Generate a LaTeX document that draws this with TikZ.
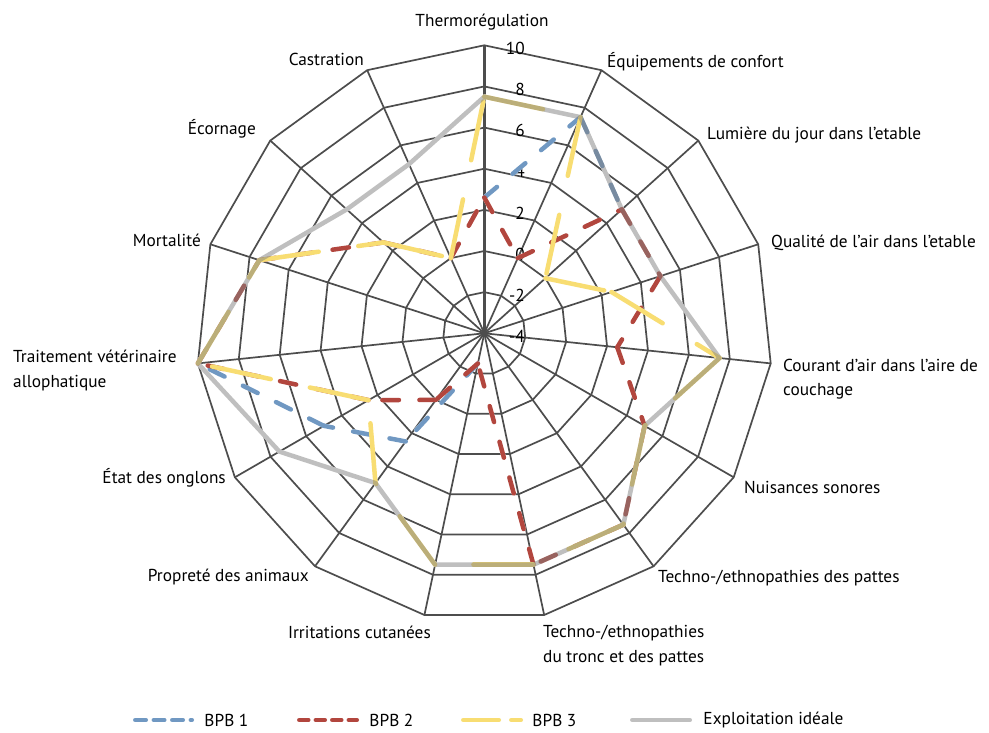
\documentclass[tikz,border=0pt]{standalone}
\usepackage{fontspec}
\setmainfont{PT Sans}
\definecolor{gridGray}{RGB}{77,77,77}
\definecolor{bpbBlue}{RGB}{112,152,194}
\definecolor{bpbRed}{RGB}{178,70,62}
\definecolor{bpbYellow}{RGB}{248,221,114}
\definecolor{idealGray}{RGB}{128,128,128}
\tikzset{
  gridline/.style={draw=gridGray, line width=1.7pt, line join=round},
  serie/.style={line width=4.5pt, line cap=round},
  blueline/.style={serie, draw=bpbBlue, dash pattern=on 16.5pt off 20.5pt},
  redline/.style={serie, draw=bpbRed, dash pattern=on 16.5pt off 20.5pt},
  yellowline/.style={serie, draw=bpbYellow, dash pattern=on 60pt off 40pt},
  idealline/.style={serie, draw=idealGray, draw opacity=0.5, line join=round},
  axislabel/.style={font=\fontsize{17.3}{24.5}\selectfont, inner sep=0pt, align=left},
  ticklabel/.style={font=\fontsize{17.3}{20}\selectfont, inner sep=0pt, anchor=east},
  legendtext/.style={font=\fontsize{17.3}{20}\selectfont, inner sep=0pt, anchor=west}
}
% one unit of the value axis (-4 .. 10 over 288pt)
\newcommand{\unitr}{20.571}
% dashed series: axis index / value / value at next axis
\newcommand{\serieA}{0/2.6/7.5, 1/7.5/5, 8/-2.5/2.5, 9/2.5/5, 10/5/10}
\newcommand{\serieB}{0/2.6/0, 1/0/5, 2/5/5, 3/5/2.5, 4/2.5/5, 5/5/7.5, 6/7.5/7.5,
  7/7.5/-2.5, 8/-2.5/0, 9/0/2.5, 10/2.5/10, 11/10/7.5, 12/7.5/2.6, 13/2.6/0, 14/0/2.6}
\newcommand{\serieC}{0/7.5/7.5, 1/7.5/0, 2/0/2.5, 3/2.5/7.5, 4/7.5/5, 5/5/7.5, 6/7.5/7.5,
  7/7.5/7.5, 8/7.5/5, 9/5/2.5, 10/2.5/10, 11/10/7.5, 12/7.5/2.6, 13/2.6/0, 14/0/7.5}
% solid series: axis index / value (axis 0 is 7.5)
\newcommand{\serieIdeal}{1/7.5, 2/5, 3/5, 4/7.5, 5/5, 6/7.5, 7/7.5, 8/7.5, 9/5, 10/7.5,
  11/10, 12/7.5, 13/5, 14/5}
\newcommand{\drawserie}[2]{%
  \foreach \i/\va/\vb in #2
    \draw[#1] ({90-24*\i}:{(\va+4)*\unitr}) -- ({66-24*\i}:{(\vb+4)*\unitr});}

\begin{document}
\begin{tikzpicture}[x=1pt, y=1pt]
\useasboundingbox (-484.3,-399.7) rectangle (504.7,333.3);
\fill[white] (-484.3,-399.7) rectangle (504.7,333.3);

% grid
\foreach \k in {1,...,7}
  \draw[gridline] (90:\k*41.143) \foreach \i in {1,...,14} { -- ({90-24*\i}:\k*41.143) } -- cycle;
\foreach \i in {1,...,14}
  \draw[gridline] (0,0) -- ({90-24*\i}:288);
\draw[gridline, line width=2.7pt] (0,0) -- (90:288);
\foreach \v in {-4,-2,...,10}
  \node[ticklabel] (tick\v) at (40.7, {(\v+4)*\unitr-3}) {\v};

% series: white under-strokes hide the grid
\drawserie{blueline, draw=white}{\serieA}
\drawserie{redline, draw=white}{\serieB}
\drawserie{yellowline, draw=white}{\serieC}
\draw[idealline, draw=white, draw opacity=1] (90:{11.5*\unitr})
  \foreach \i/\v in \serieIdeal { -- ({90-24*\i}:{(\v+4)*\unitr}) } -- cycle;
\drawserie{blueline}{\serieA}
\drawserie{redline}{\serieB}
\drawserie{yellowline}{\serieC}
\draw[idealline] (90:{11.5*\unitr})
  \foreach \i/\v in \serieIdeal { -- ({90-24*\i}:{(\v+4)*\unitr}) } -- cycle;

% axis labels
\node[axislabel] (thermo) at (-2.3,311.3) {Thermorégulation};
\node[axislabel, anchor=west] (confort) at (122.7,271.3) {Équipements de confort};
\node[axislabel, anchor=west] (lumiere) at (222.7,198.3) {Lumière du jour dans l’etable};
\node[axislabel, anchor=west] (air) at (286.7,90.3) {Qualité de l’air dans l’etable};
\node[axislabel, anchor=west] (courant) at (298.7,-45.7) {Courant d’air dans l’aire de\\couchage};
\node[axislabel, anchor=west] (sonores) at (259.7,-153.7) {Nuisances sonores};
\node[axislabel, anchor=west] (pattes) at (173.7,-244.7) {Techno-/ethnopathies des pattes};
\node[axislabel, anchor=west] (tronc) at (58.7,-312.2) {Techno-/ethnopathies\\du tronc et des pattes};
\node[axislabel, anchor=east] (irrit) at (-53.3,-298.7) {Irritations cutanées};
\node[axislabel, anchor=east] (proprete) at (-175.3,-243.7) {Propreté des animaux};
\node[axislabel, anchor=east] (onglons) at (-258.3,-144.7) {État des onglons};
\node[axislabel, anchor=west] (traitement) at (-471.3,-37) {Traitement vétérinaire\\allophatique};
\node[axislabel, anchor=east] (mortalite) at (-283.3,93.3) {Mortalité};
\node[axislabel, anchor=east] (ecornage) at (-228.3,204.3) {Écornage};
\node[axislabel, anchor=east] (castration) at (-120.3,274.3) {Castration};

% legend
\coordinate (lgA1) at (-349,-386.7); \coordinate (lgA2) at (-292.5,-386.7);
\coordinate (lgB1) at (-185,-386.7); \coordinate (lgB2) at (-127.5,-386.7);
\coordinate (lgC1) at (-21,-386.7);  \coordinate (lgC2) at (36.5,-386.7);
\coordinate (lgD1) at (148,-386.7);  \coordinate (lgD2) at (205.5,-386.7);
\draw[blueline, dash pattern=on 10.5pt off 8pt] (lgA1) -- (lgA2);
\draw[redline, dash pattern=on 9pt off 7.5pt] (lgB1) -- (lgB2);
\draw[yellowline, dash pattern=on 35.5pt off 12.5pt] (lgC1) -- (lgC2);
\draw[idealline] (lgD1) -- (lgD2);
\node[legendtext] (lgtA) at (-280,-386.7) {BPB 1};
\node[legendtext] (lgtB) at (-115,-386.7) {BPB 2};
\node[legendtext] (lgtC) at (48,-386.7) {BPB 3};
\node[legendtext] (lgtD) at (219,-386.7) {Exploitation idéale};
\end{tikzpicture}
\end{document}
